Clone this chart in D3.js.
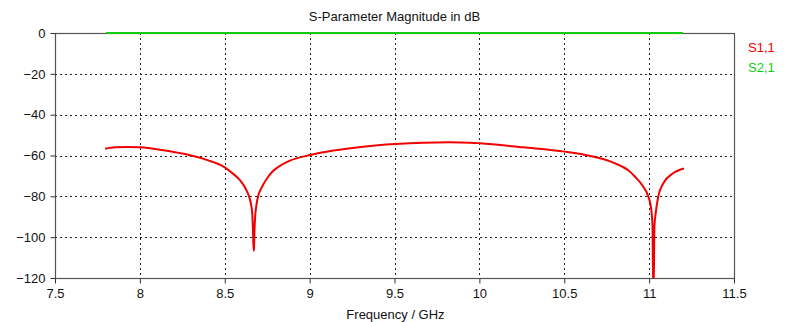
<!DOCTYPE html>
<html>
<head>
<meta charset="utf-8">
<script src="https://cdn.jsdelivr.net/npm/d3@7"></script>
<style>
  html, body { margin: 0; padding: 0; background: #fff; }
  svg { display: block; }
  text { font-family: "Liberation Sans", Arial, sans-serif; fill: #111; }
</style>
</head>
<body>
<svg id="chart" width="800" height="322"></svg>
<script>
// ---- Data ----
const s11Freq = [7.795, 7.853, 7.93, 8.0, 8.128, 8.266, 8.384, 8.5, 8.55, 8.58, 8.603, 8.62, 8.643, 8.655, 8.662, 8.666, 8.670, 8.672, 8.675, 8.679, 8.686, 8.698, 8.717, 8.757, 8.786, 8.83, 8.884, 9.002, 9.14, 9.316, 9.503, 9.67, 9.827, 9.945, 10.004, 10.259, 10.504, 10.652, 10.789, 10.887, 10.917, 10.966, 10.995, 11.008, 11.015, 11.020, 11.024, 11.027, 11.031, 11.039, 11.054, 11.084, 11.142, 11.205];
const s11Val  = [-56.7, -56.0, -55.8, -56.0, -57.3, -59.3, -61.9, -65.8, -69.0, -71.2, -73.5, -75.8, -80.0, -84.0, -88.3, -96.0, -106.6, -106.0, -97.0, -90.0, -84.5, -79.5, -75.8, -70.3, -67.5, -64.8, -62.5, -59.8, -57.6, -55.7, -54.4, -53.7, -53.5, -53.7, -54.0, -56.0, -58.1, -60.2, -63.5, -67.9, -70.4, -75.3, -80.0, -84.0, -88.3, -95.0, -125.0, -125.0, -95.0, -88.0, -80.0, -73.6, -68.7, -66.4];

const s21Freq = [7.8, 8.67, 9.5, 10.5, 11.03, 11.2];
const s21Val  = [-0.02, -0.02, -0.02, -0.02, -0.02, -0.02];

const xTicks = [7.5, 8, 8.5, 9, 9.5, 10, 10.5, 11, 11.5];
const yTicks = [0, -20, -40, -60, -80, -100, -120];
const seriesNames = ["S1,1", "S2,1"];
const seriesColors = ["#f00000", "#10cc10"];

const titleText = "S-Parameter Magnitude in dB";
const xLabel = "Frequency / GHz";

// ---- Layout ----
const svg = d3.select("#chart");
const m = { left: 55, right: 734, top: 33, bottom: 278 };

const x = d3.scaleLinear().domain([7.5, 11.5]).range([m.left, m.right]);
const y = d3.scaleLinear().domain([-120, 0]).range([m.bottom, m.top]);

// clip
svg.append("defs").append("clipPath").attr("id", "clip")
  .append("rect").attr("x", m.left).attr("y", m.top - 2)
  .attr("width", m.right - m.left).attr("height", m.bottom - m.top + 2);

// grid
const grid = svg.append("g").attr("class", "grid");
grid.selectAll("line.v").data(xTicks.slice(1, -1)).enter().append("line")
  .attr("x1", d => Math.round(x(d)) + 0.5).attr("x2", d => Math.round(x(d)) + 0.5)
  .attr("y1", m.top).attr("y2", m.bottom)
  .attr("stroke", "#222").attr("stroke-width", 1).attr("stroke-dasharray", "2,3");
grid.selectAll("line.h").data(yTicks.slice(1, -1)).enter().append("line")
  .attr("y1", d => Math.round(y(d)) + 0.5).attr("y2", d => Math.round(y(d)) + 0.5)
  .attr("x1", m.left).attr("x2", m.right)
  .attr("stroke", "#222").attr("stroke-width", 1).attr("stroke-dasharray", "2,3");

// frame
svg.append("rect").attr("x", m.left + 0.5).attr("y", m.top + 0.5)
  .attr("width", m.right - m.left).attr("height", m.bottom - m.top)
  .attr("fill", "none").attr("stroke", "#555").attr("stroke-width", 1.2);

// axes
const xAxis = d3.axisBottom(x).tickValues(xTicks).tickSize(5).tickPadding(5)
  .tickFormat(d3.format("~g"));
const gx = svg.append("g").attr("transform", `translate(0,${m.bottom + 0.5})`).call(xAxis);
gx.select(".domain").remove();
gx.selectAll(".tick line").attr("stroke", "#333");
gx.selectAll("text").style("font-size", "13px")
  .style("font-family", "'Liberation Sans', Arial, sans-serif").attr("fill", "#111");

const yAxis = d3.axisLeft(y).tickValues(yTicks).tickSize(5).tickPadding(5);
const gy = svg.append("g").attr("transform", `translate(${m.left + 0.5},0)`).call(yAxis);
gy.select(".domain").remove();
gy.selectAll(".tick line").attr("stroke", "#333");
gy.selectAll("text").style("font-size", "13px")
  .style("font-family", "'Liberation Sans', Arial, sans-serif").attr("fill", "#111");

// lines
const line = d3.line().x(d => x(d[0])).y(d => y(d[1])).curve(d3.curveMonotoneX);
const plot = svg.append("g").attr("clip-path", "url(#clip)");
plot.append("path")
  .datum(s21Freq.map((f, i) => [f, s21Val[i]]))
  .attr("d", line).attr("fill", "none")
  .attr("stroke", seriesColors[1]).attr("stroke-width", 2);
plot.append("path")
  .datum(s11Freq.map((f, i) => [f, s11Val[i]]))
  .attr("d", line).attr("fill", "none")
  .attr("stroke", seriesColors[0]).attr("stroke-width", 2)
  .attr("stroke-linejoin", "round");

// title
svg.append("text").attr("x", (m.left + m.right) / 2).attr("y", 21)
  .attr("text-anchor", "middle").style("font-size", "13px").text(titleText);

// x label
svg.append("text").attr("x", (m.left + m.right) / 2 + 1).attr("y", 319)
  .attr("text-anchor", "middle").style("font-size", "13px").text(xLabel);

// legend
svg.selectAll("text.legend").data(seriesNames).enter().append("text")
  .attr("class", "legend")
  .attr("x", 748).attr("y", (d, i) => 52 + i * 20)
  .style("font-size", "13px")
  .style("fill", (d, i) => seriesColors[i])
  .text(d => d);
</script>
</body>
</html>
